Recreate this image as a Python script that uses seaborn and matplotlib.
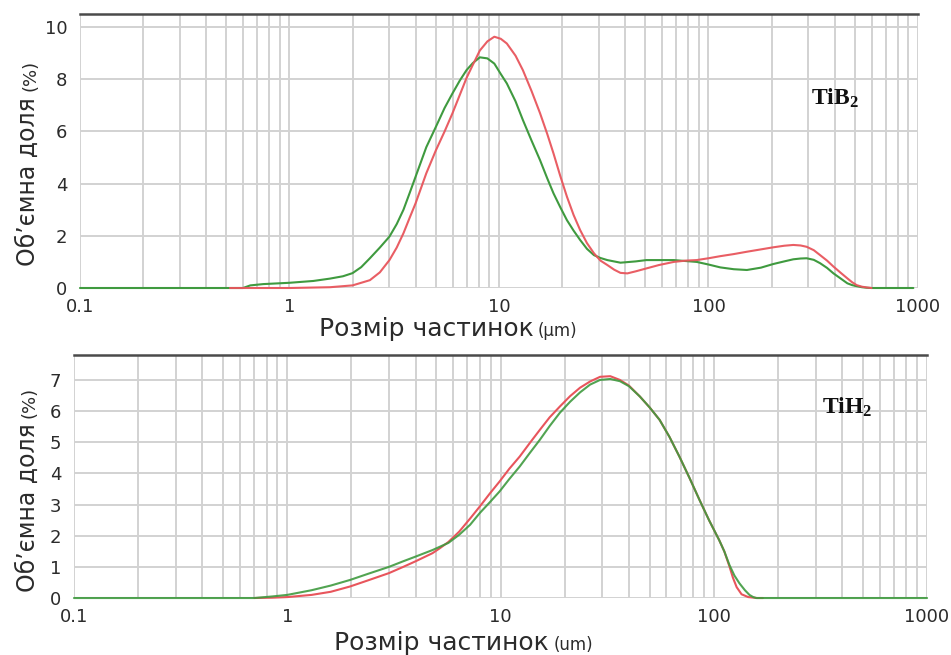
import matplotlib
matplotlib.use("Agg")
import matplotlib.pyplot as plt
import seaborn as sns
from matplotlib.ticker import LogLocator, NullFormatter

# ---- TiB2 (top panel) ----
tib2_red_size = [0.52, 1.0, 1.56, 2.0, 2.42, 2.7, 3.0, 3.25, 3.5, 3.75, 4.0, 4.5, 5.0, 5.5, 6.0,
                 6.5, 7.0, 7.5, 8.1, 8.8, 9.5, 10.2, 10.9, 12.0, 13.0, 14.3, 15.7, 17.0, 18.2,
                 19.6, 21.1, 22.7, 24.4, 26.3, 28.4, 30.5, 32.9, 35.5, 38, 41, 45, 50.5, 58,
                 68.3, 78, 87.8, 100, 113.8, 132, 152.5, 178, 204, 230, 254, 275, 294, 318,
                 341, 368, 395, 428, 460, 485, 510, 540, 570, 600]
tib2_red_vol = [0, 0, 0.03, 0.1, 0.3, 0.6, 1.07, 1.55, 2.1, 2.7, 3.25, 4.4, 5.28, 6.0, 6.7,
                7.4, 8.05, 8.55, 9.1, 9.45, 9.63, 9.55, 9.37, 8.9, 8.35, 7.55, 6.7, 5.9, 5.16,
                4.3, 3.5, 2.8, 2.22, 1.72, 1.33, 1.05, 0.88, 0.7, 0.58, 0.56, 0.64, 0.75, 0.88,
                1.0, 1.05, 1.07, 1.14, 1.22, 1.3, 1.39, 1.48, 1.56, 1.62, 1.65, 1.63, 1.58, 1.45,
                1.26, 1.05, 0.82, 0.58, 0.37, 0.22, 0.11, 0.05, 0.02, 0]

tib2_green_size = [0.1, 0.6, 0.65, 0.75, 1.0, 1.3, 1.56, 1.8, 2.0, 2.2, 2.42, 2.7, 3.0, 3.25,
                   3.5, 3.75, 4.0, 4.5, 5.0, 5.5, 6.0, 6.5, 7.0, 7.5, 8.1, 8.8, 9.5, 10.2, 10.9,
                   12.0, 13.0, 14.3, 15.7, 17.0, 18.2, 19.6, 21.1, 22.7, 24.4, 26.3, 28.4, 30.5,
                   32.9, 38, 45, 50.5, 68.3, 87.8, 100, 113.8, 132, 152.5, 178, 204, 230, 254,
                   275, 294, 318, 341, 368, 395, 428, 460, 485, 510, 540, 570, 600, 950]
tib2_green_vol = [0, 0, 0.1, 0.15, 0.2, 0.27, 0.36, 0.45, 0.57, 0.8, 1.14, 1.55, 1.97, 2.45,
                  3.0, 3.65, 4.27, 5.4, 6.18, 6.9, 7.46, 7.95, 8.35, 8.62, 8.84, 8.8, 8.6, 8.2, 7.84,
                  7.15, 6.44, 5.65, 4.9, 4.2, 3.63, 3.1, 2.6, 2.2, 1.84, 1.5, 1.26, 1.15,
                  1.07, 0.97, 1.02, 1.07, 1.07, 1.0, 0.9, 0.79, 0.72, 0.69, 0.78, 0.92, 1.02, 1.1,
                  1.13, 1.14, 1.08, 0.95, 0.77, 0.56, 0.36, 0.18, 0.11, 0.07, 0.03, 0.01, 0, 0]

# ---- TiH2 (bottom panel) ----
tih2_red_size = [0.7, 0.85, 1.0, 1.3, 1.6, 1.97, 2.4, 3.0, 3.5, 4.0, 4.8, 5.2, 5.7, 6.4, 7.2,
                 8.0, 8.9, 9.9, 11.0, 12.3, 13.7, 15.3, 17.0, 19.0, 21.2, 23.6, 26.3, 29.3,
                 32.7, 36.3, 40, 45, 50, 55.7, 62, 69, 77, 85.7, 95, 106, 112, 118.6, 123,
                 128, 135, 145, 160, 170]
tih2_red_vol = [0, 0.01, 0.03, 0.1, 0.2, 0.37, 0.57, 0.8, 1.0, 1.18, 1.44, 1.6, 1.8, 2.13, 2.55,
                2.94, 3.35, 3.74, 4.15, 4.54, 4.97, 5.4, 5.8, 6.15, 6.48, 6.75, 6.95, 7.1,
                7.12, 7.0, 6.82, 6.47, 6.12, 5.72, 5.17, 4.54, 3.85, 3.15, 2.5, 1.86, 1.5, 1.0, 0.65,
                0.35, 0.12, 0.03, 0, 0]

tih2_green_size = [0.1, 0.7, 0.85, 1.0, 1.3, 1.6, 1.97, 2.4, 3.0, 3.5, 4.0, 4.8, 5.7, 6.4, 7.2,
                   8.0, 8.9, 9.9, 11.0, 12.3, 13.7, 15.3, 17.0, 19.0, 21.2, 23.6, 26.3, 29.3,
                   32.7, 36.3, 40, 45, 50, 55.7, 62, 69, 77, 85.7, 95, 106, 112, 118.6, 125,
                   132, 140, 147, 153, 158, 1000]
tih2_green_vol = [0, 0, 0.05, 0.1, 0.25, 0.4, 0.58, 0.78, 1.0, 1.18, 1.33, 1.54, 1.77, 2.03, 2.35,
                  2.73, 3.07, 3.42, 3.82, 4.22, 4.65, 5.08, 5.52, 5.95, 6.3, 6.6, 6.85, 7.0,
                  7.03, 6.96, 6.8, 6.47, 6.12, 5.72, 5.17, 4.54, 3.85, 3.15, 2.5, 1.86, 1.5, 1.05, 0.72,
                  0.47, 0.25, 0.1, 0.03, 0, 0]

x_ticks = [0.1, 1, 10, 100, 1000]
x_ticklabels = ['0.1', '1', '10', '100', '1000']

RED = '#e8555c'
GREEN = '#3f9a3f'
TEXT = '#2b2b2b'

sns.set_theme(style="whitegrid")
plt.rcParams['font.family'] = ['DejaVu Sans']
plt.rcParams['mathtext.fontset'] = 'custom'
plt.rcParams['mathtext.bf'] = 'Liberation Serif:bold'
plt.rcParams['mathtext.rm'] = 'Liberation Serif'

fig = plt.figure(figsize=(9.51, 6.55), dpi=100)
ax1 = fig.add_axes([0.0841, 0.5603, 0.8812, 0.4183])
ax2 = fig.add_axes([0.0778, 0.0870, 0.8970, 0.3710])


def style_panel(ax, ymax, yticks, unit, label_x, label_y, ylab_x, ylab_y, name, name_xy):
    ax.set_xscale('log')
    ax.set_xlim(0.1, 1000)
    ax.set_ylim(0, ymax)
    ax.set_xticks(x_ticks)
    ax.set_xticklabels(x_ticklabels)
    ax.xaxis.set_minor_locator(LogLocator(base=10, subs=range(2, 10)))
    ax.xaxis.set_minor_formatter(NullFormatter())
    ax.set_yticks(yticks)
    ax.set_yticklabels([str(t) for t in yticks])
    ax.tick_params(axis='both', which='both', length=0, labelsize=13, labelcolor=TEXT)
    ax.tick_params(axis='x', pad=7)
    ax.tick_params(axis='y', pad=9)
    ax.grid(True, which='both', axis='x', color='#d2d2d2', lw=1.4)
    ax.grid(True, which='major', axis='y', color='#d2d2d2', lw=1.4)
    for side in ['left', 'right', 'bottom']:
        ax.spines[side].set_visible(False)
    ax.spines['top'].set_color('#4a4a4a')
    ax.spines['top'].set_linewidth(1.8)

    ax.set_xlabel('Розмір частинок', fontsize=18, color=TEXT)
    ax.xaxis.set_label_coords(label_x, label_y)
    ax.annotate(unit, xy=(1.0, 0.04), xycoords=ax.xaxis.label, xytext=(3, 0),
                textcoords='offset points', ha='left', va='bottom', fontsize=12, color=TEXT)

    ax.set_ylabel('Об’ємна доля', fontsize=17, color=TEXT, va='center')
    ax.yaxis.set_label_coords(ylab_x, ylab_y)
    ax.annotate('(%)', xy=(0.96, 1.0), xycoords=ax.yaxis.label, xytext=(0, 4),
                textcoords='offset points', ha='right', va='bottom', rotation=90,
                fontsize=13, color=TEXT)

    ax.text(name_xy[0], name_xy[1], name, transform=ax.transAxes, fontsize=17,
            ha='center', va='center', color='#111111')


sns.lineplot(x=tib2_green_size, y=tib2_green_vol, color=GREEN, lw=1.5, ax=ax1, clip_on=False)
sns.lineplot(x=tib2_red_size, y=tib2_red_vol, color=RED, lw=1.5, ax=ax1, clip_on=False, alpha=0.95)
style_panel(ax1, 10.5, [0, 2, 4, 6, 8, 10], '(μm)', 0.413, -0.105, -0.062, 0.39,
            r'$\mathbf{TiB_2}$', (0.901, 0.693))

sns.lineplot(x=tih2_red_size, y=tih2_red_vol, color=RED, lw=1.5, ax=ax2, clip_on=False)
sns.lineplot(x=tih2_green_size, y=tih2_green_vol, color=GREEN, lw=1.5, ax=ax2, clip_on=False, alpha=0.9)
style_panel(ax2, 7.8, [0, 1, 2, 3, 4, 5, 6, 7], '(um)', 0.431, -0.135, -0.054, 0.37,
            r'$\mathbf{TiH_2}$', (0.906, 0.786))

fig.savefig('out.png', dpi=100)
